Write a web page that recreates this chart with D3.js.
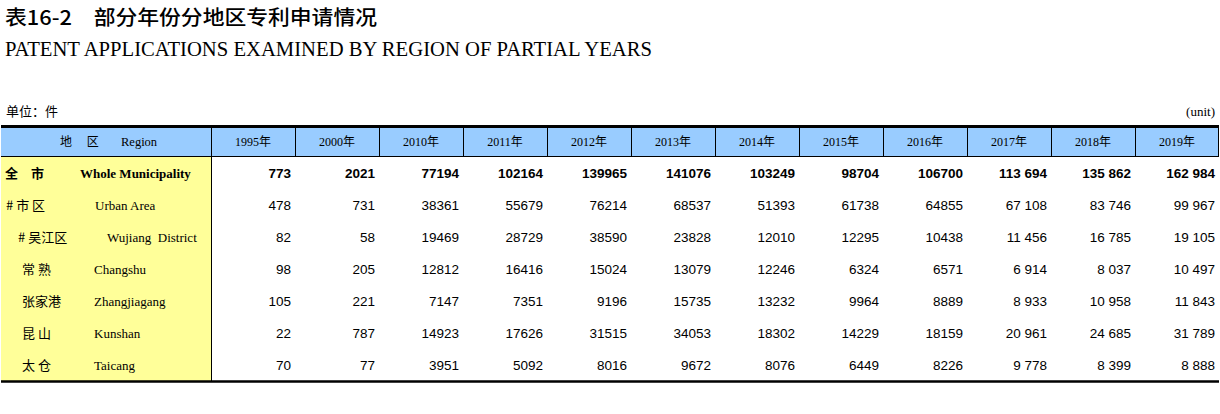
<!DOCTYPE html>
<html>
<head>
<meta charset="utf-8">
<script src="https://cdn.jsdelivr.net/npm/d3@7"></script>
<style>
  body { margin:0; background:#fff; }
  svg { display:block; }
</style>
</head>
<body>
<div id="chart"></div>
<script>
// table data
var years = ["1995","2000","2010","2011","2012","2013","2014","2015","2016","2017","2018","2019"];
var regionsCn = ["全\u3000市","# 市 区","# 吴江区","常 熟","张家港","昆 山","太 仓"];
var regionsEn = ["Whole Municipality","Urban Area","Wujiang  District","Changshu","Zhangjiagang","Kunshan","Taicang"];
var wholeCity   = [773,2021,77194,102164,139965,141076,103249,98704,106700,113694,135862,162984];
var urbanArea   = [478,731,38361,55679,76214,68537,51393,61738,64855,67108,83746,99967];
var wujiang     = [82,58,19469,28729,38590,23828,12010,12295,10438,11456,16785,19105];
var changshu    = [98,205,12812,16416,15024,13079,12246,6324,6571,6914,8037,10497];
var zhangjiagang= [105,221,7147,7351,9196,15735,13232,9964,8889,8933,10958,11843];
var kunshan     = [22,787,14923,17626,31515,34053,18302,14229,18159,20961,24685,31789];
var taicang     = [70,77,3951,5092,8016,9672,8076,6449,8226,9778,8399,8888];
var rowValues = [wholeCity,urbanArea,wujiang,changshu,zhangjiagang,kunshan,taicang];

// layout
var W = 1220, H = 414;
var tLeft = 1, tRight = 1219, labelW = 211;
var tTop = 127, headH = 30, rowH = 32;
var cnX = [5,6,18,22,22,22,22];
var enX = [80,95,107,94,94,94,94];

var svg = d3.select("#chart").append("svg")
  .attr("width", W).attr("height", H);

var x = d3.scaleBand().domain(years).range([labelW, tRight]);
var y = d3.scaleBand().domain(d3.range(regionsCn.length))
  .range([tTop + headH, tTop + headH + rowH * regionsCn.length]);

var spaced = d3.formatLocale({decimal:".", thousands:" ", grouping:[3], currency:["",""]}).format(",d");
function fmt(v, yr){ return (+yr >= 2017) ? spaced(v) : String(v); }

// titles
svg.append("text")
  .attr("x", 5).attr("y", 25)
  .attr("textLength", 372).attr("lengthAdjust", "spacingAndGlyphs")
  .style("font-family", "'Noto Sans CJK SC'").style("font-size", "20px").style("font-weight", 500)
  .text("表16-2\u3000部分年份分地区专利申请情况");
svg.append("text")
  .attr("x", 5).attr("y", 56)
  .attr("textLength", 647).attr("lengthAdjust", "spacingAndGlyphs")
  .style("font-family", "'Liberation Serif'").style("font-size", "22px")
  .text("PATENT APPLICATIONS EXAMINED BY REGION OF PARTIAL YEARS");

svg.append("text")
  .attr("x", 6).attr("y", 116)
  .style("font-family", "'Noto Sans CJK SC'").style("font-size", "13px")
  .text("单位：件");
svg.append("text")
  .attr("x", 1215).attr("y", 116).attr("text-anchor", "end")
  .style("font-family", "'Liberation Serif'").style("font-size", "13px")
  .text("(unit)");

// backgrounds
svg.append("rect")
  .attr("x", tLeft).attr("y", tTop).attr("width", tRight - tLeft).attr("height", headH)
  .attr("fill", "#99ccff");
svg.append("rect")
  .attr("x", tLeft).attr("y", tTop + headH).attr("width", labelW - tLeft).attr("height", rowH * regionsCn.length)
  .attr("fill", "#ffff99");

// header lines
var lines = svg.append("g").attr("stroke", "#000");
lines.selectAll("line.v").data(years.concat(["end"]))
  .enter().append("line")
  .attr("x1", function(d){ return d === "end" ? tRight - 0.5 : Math.round(x(d)) + 0.5; })
  .attr("x2", function(d){ return d === "end" ? tRight - 0.5 : Math.round(x(d)) + 0.5; })
  .attr("y1", tTop).attr("y2", tTop + headH);
lines.append("line")
  .attr("x1", labelW + 0.5).attr("x2", labelW + 0.5)
  .attr("y1", tTop + headH).attr("y2", y.range()[1]);
lines.append("line")
  .attr("x1", tLeft).attr("x2", tRight).attr("y1", tTop + headH - 0.5).attr("y2", tTop + headH - 0.5);
lines.append("line")
  .attr("x1", tLeft).attr("x2", tRight).attr("y1", tTop - 0.5).attr("y2", tTop - 0.5)
  .attr("stroke-width", 3);
lines.append("line")
  .attr("x1", tLeft).attr("x2", tRight).attr("y1", y.range()[1] + 0.5).attr("y2", y.range()[1] + 0.5)
  .attr("stroke-width", 2.5);

// header text
var hy = tTop + headH / 2 + 4;
svg.append("text").attr("x", 60).attr("y", hy)
  .style("font-family", "'Noto Sans CJK SC'").style("font-size", "12px")
  .style("white-space", "pre")
  .text("地\u3000 区");
svg.append("text").attr("x", 121).attr("y", hy)
  .style("font-family", "'Liberation Serif'").style("font-size", "12.5px")
  .text("Region");
var hText = svg.selectAll("text.year").data(years).enter().append("text")
  .attr("class", "year")
  .attr("x", function(d){ return x(d) + x.bandwidth() / 2; })
  .attr("y", hy).attr("text-anchor", "middle")
  .style("font-size", "12px");
hText.append("tspan").style("font-family", "'Liberation Serif'").text(function(d){ return d; });
hText.append("tspan").style("font-family", "'Noto Sans CJK SC'").text("年");

// row labels
var rows = svg.selectAll("g.row").data(rowValues).enter().append("g")
  .attr("class", "row")
  .attr("transform", function(d, i){ return "translate(0," + (y(i) + rowH / 2 + 5) + ")"; });

rows.append("text")
  .attr("x", function(d, i){ return cnX[i]; })
  .style("font-family", "'Noto Sans CJK SC'").style("font-size", "13px")
  .style("font-weight", function(d, i){ return i === 0 ? 700 : 400; })
  .style("white-space", "pre")
  .text(function(d, i){ return regionsCn[i]; });
rows.append("text")
  .attr("x", function(d, i){ return enX[i]; })
  .style("font-family", "'Liberation Serif'").style("font-size", "13px")
  .style("font-weight", function(d, i){ return i === 0 ? 700 : 400; })
  .style("white-space", "pre")
  .text(function(d, i){ return regionsEn[i]; });

// values
rows.each(function(vals, i){
  d3.select(this).selectAll("text.val").data(vals).enter().append("text")
    .attr("class", "val")
    .attr("x", function(v, j){ return x(years[j]) + x.bandwidth() - 4; })
    .attr("text-anchor", "end")
    .style("font-family", "'Liberation Sans', Arial")
    .style("font-size", "13.5px")
    .style("font-weight", i === 0 ? 700 : 400)
    .text(function(v, j){ return fmt(v, years[j]); });
});
</script>
</body>
</html>
